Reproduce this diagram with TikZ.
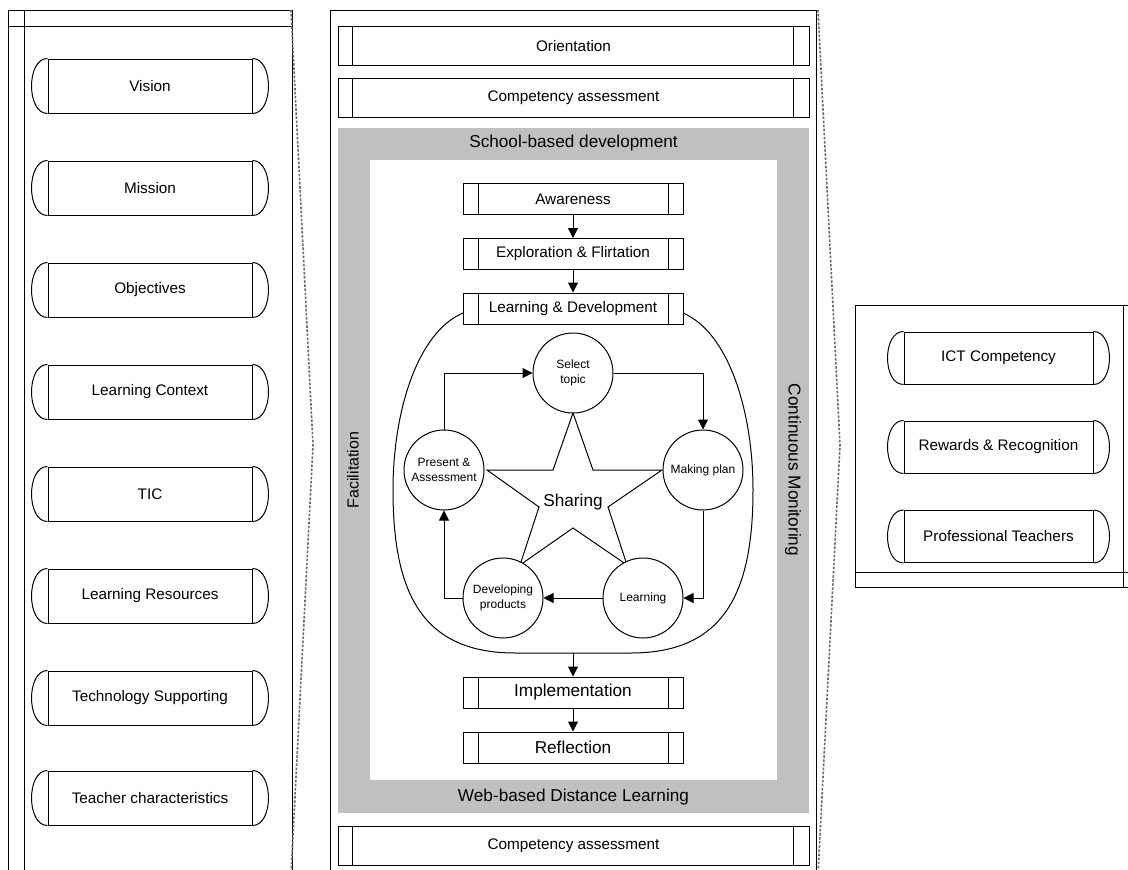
\documentclass[tikz,border=0pt]{standalone}
\usepackage{fontspec}
\setmainfont{Liberation Sans}
\usetikzlibrary{arrows.meta}
\definecolor{bandgray}{HTML}{C0C0C0}
\definecolor{dotgray}{HTML}{6A6A6A}
\begin{document}
\begin{tikzpicture}[x=1pt,y=-1pt, line width=1pt,
  txt/.style={font=\fontsize{15.3}{18}\selectfont},
  bigtxt/.style={font=\fontsize{17.2}{20}\selectfont},
  pill/.style={draw, fill=white, minimum width=204pt, minimum height=54pt, inner sep=0pt, txt},
  rpill/.style={draw, fill=white, minimum width=189pt, minimum height=52pt, inner sep=0pt, txt},
  band/.style={draw, fill=white, minimum width=471pt, minimum height=39pt, inner sep=0pt, txt},
  stage/.style={draw, fill=white, minimum width=220pt, minimum height=31pt, inner sep=0pt},
  cyc/.style={draw, fill=white, circle, minimum size=80pt, inner sep=0pt, align=center, font=\fontsize{12}{14.5}\selectfont},
  arr/.style={-{Triangle[length=10pt,width=10pt]}},
  dots/.style={dotgray, dash pattern=on 2.5pt off 1.6pt, line width=1.6pt}
]
\useasboundingbox (0,0) rectangle (1128,870);
\clip (0,0) rectangle (1128,870);
\fill[white] (0,0) rectangle (1128,870);

% ---------- left panel ----------
\draw (8,10) rectangle (292,890);
\draw (24,10) -- (24,890);
\draw (8,26) -- (292,26);
\draw[dots] (291,10) -- (313,445) -- (291,875);

\node[pill] (vision) at (150,86) {Vision};
\node[pill] (mission) at (150,188) {Mission};
\node[pill] (obj) at (150,290) {Objectives};
\node[pill] (lctx) at (150,392) {Learning Context};
\node[pill] (tic) at (150,494) {TIC};
\node[pill] (lres) at (150,596) {Learning Resources};
\node[pill] (tech) at (150,698) {Technology Supporting};
\node[pill] (tchar) at (150,798) {Teacher characteristics};

% ---------- middle panel ----------
\draw (330,10) rectangle (816,890);
\draw[dots] (818,10) -- (840,445) -- (818,875);

\node[band] (orient) at (573.5,46) {Orientation};
\node[band] (comp1) at (573.5,97.5) {Competency assessment};
\node[band] (comp2) at (573.5,846) {Competency assessment};

\fill[bandgray] (338,128) rectangle (809,813);
\fill[white] (370,160) rectangle (777,780);
\node[bigtxt] (school) at (573.5,143) {School-based development};
\node[bigtxt] (web) at (573.5,797) {Web-based Distance Learning};
\node[font=\fontsize{16}{18}\selectfont, rotate=90] (facil) at (353,470) {Facilitation};
\node[bigtxt, rotate=-90] (monit) at (793,470) {Continuous Monitoring};

% big oval
\draw (463,313) .. controls (418,332) and (393,410) .. (393,490)
  .. controls (393,590) and (420,653) .. (515,653) -- (631,653)
  .. controls (726,653) and (753,590) .. (753,490)
  .. controls (753,410) and (728,332) .. (683,313);
\coordinate (ovb) at (573,653);

\node[stage, txt] (aware) at (573,199) {Awareness};
\node[stage, txt] (explo) at (573,254) {Exploration \& Flirtation};
\node[stage, txt] (ld) at (573,308.5) {Learning \& Development};
\node[stage, bigtxt] (impl) at (573,692.5) {Implementation};
\node[stage, bigtxt] (refl) at (573,747.5) {Reflection};

% star
\draw (573,413) -- (593,470) -- (662,470) -- (608,507) -- (627,565) -- (573,528)
  -- (520,565) -- (539,507) -- (487,470) -- (553,470) -- cycle;
\node[bigtxt] (sharing) at (573,502) {Sharing};

\node[cyc] (sel) at (573,373) {Select\\topic};
\node[cyc] (plan) at (703,470) {Making plan};
\node[cyc] (learn) at (643,598) {Learning};
\node[cyc] (dev) at (503,598) {Developing\\products};
\node[cyc] (pres) at (444,470) {Present \&\\Assessment};

% ---------- right panel ----------
\draw (855,305) rectangle (1140,587);
\draw (1123,305) -- (1123,587);
\draw (855,572) -- (1140,572);

\node[rpill] (ict) at (998.5,358) {ICT Competency};
\node[rpill] (rew) at (998.5,447) {Rewards \& Recognition};
\node[rpill] (prof) at (998.5,536.5) {Professional Teachers};

% ---------- decorations of shapes ----------
\foreach \n in {vision,mission,obj,lctx,tic,lres,tech,tchar,ict,rew,prof}{
  \draw (\n.north west) .. controls +(-21.3,0) and +(-21.3,0) .. (\n.south west);
  \draw (\n.north east) .. controls +(21.3,0) and +(21.3,0) .. (\n.south east);
}
\foreach \n in {orient,comp1,comp2}{
  \draw ([xshift=15pt]\n.north west) -- ([xshift=15pt]\n.south west);
  \draw ([xshift=-16pt]\n.north east) -- ([xshift=-16pt]\n.south east);
}
\foreach \n in {aware,explo,ld,impl,refl}{
  \draw ([xshift=16pt]\n.north west) -- ([xshift=16pt]\n.south west);
  \draw ([xshift=-15pt]\n.north east) -- ([xshift=-15pt]\n.south east);
}

% ---------- connectors ----------
\draw[arr] (aware) -- (explo);
\draw[arr] (explo) -- (ld);
\draw[arr] (ovb) -- (impl);
\draw[arr] (impl) -- (refl);

\draw[arr] (sel.east) -| (plan.north);
\draw[arr] (plan.south) |- (learn.east);
\draw[arr] (learn.west) -- (dev.east);
\draw[arr] (dev.west) -| (pres.south);
\draw[arr] (pres.north) |- (sel.west);
\end{tikzpicture}
\end{document}
